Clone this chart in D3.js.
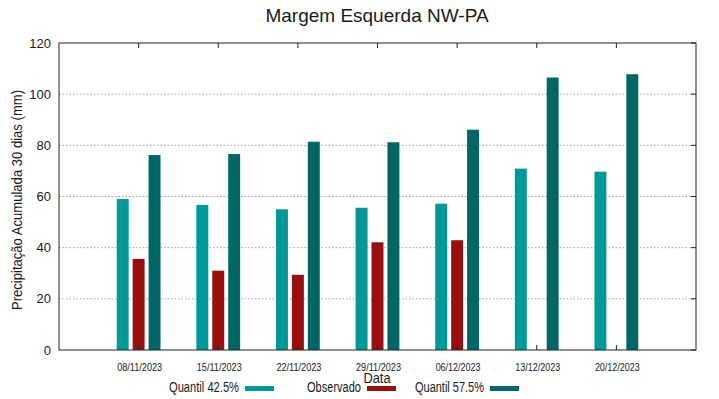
<!DOCTYPE html>
<html>
<head>
<meta charset="utf-8">
<script src="https://cdn.jsdelivr.net/npm/d3@7"></script>
<style>
  body { margin: 0; background: #fff; }
  text { font-family: "Liberation Sans", Arial, sans-serif; fill: #1a1a1a; }
  .grid line { stroke: #a0a0a0; stroke-dasharray: 1.5,2; }
</style>
</head>
<body>
<svg id="chart" width="719" height="399"></svg>
<script>
// Chart data
const dates = ["08/11/2023", "15/11/2023", "22/11/2023", "29/11/2023", "06/12/2023", "13/12/2023", "20/12/2023"];
const q425 = [59.0, 56.7, 55.0, 55.6, 57.2, 70.9, 69.7];
const observado = [35.6, 31.0, 29.4, 42.1, 42.9, null, null];
const q575 = [76.2, 76.6, 81.4, 81.2, 86.1, 106.5, 107.8];
const yTicks = [0, 20, 40, 60, 80, 100, 120];

const series = [
  {name: "Quantil 42.5%", values: q425, color: "#009999", offset: -0.2},
  {name: "Observado", values: observado, color: "#990f0f", offset: 0},
  {name: "Quantil 57.5%", values: q575, color: "#006666", offset: 0.2}
];

const margin = {top: 43, right: 23, bottom: 49, left: 59},
    width = 719 - margin.left - margin.right,
    height = 399 - margin.top - margin.bottom;

const svg = d3.select("#chart");
const g = svg.append("g")
    .attr("transform", `translate(${margin.left},${margin.top})`);

// Scales: x as index with one unit padding each side
const x = d3.scaleLinear().domain([-1, dates.length]).range([0, width]);
const y = d3.scaleLinear().domain([0, 120]).range([height, 0]);
const barW = x(0.15) - x(0);

// Grid
g.append("g")
    .attr("class", "grid")
    .selectAll("line")
    .data(yTicks.filter(t => t > 0 && t < 120))
    .enter().append("line")
    .attr("x1", 0).attr("x2", width)
    .attr("y1", d => y(d)).attr("y2", d => y(d));

// Bars
series.forEach(s => {
  g.selectAll(null)
    .data(s.values.map((v, i) => ({v, i})).filter(d => d.v != null))
    .enter().append("rect")
    .attr("x", d => x(d.i + s.offset) - barW / 2)
    .attr("y", d => y(d.v))
    .attr("width", barW)
    .attr("height", d => y(0) - y(d.v))
    .attr("fill", s.color);
});

// Frame
g.append("rect")
    .attr("width", width).attr("height", height)
    .attr("fill", "none").attr("stroke", "#222").attr("stroke-width", 1);

// Y axis labels and ticks (left + mirrored right)
g.selectAll(".ylab")
    .data(yTicks)
    .enter().append("text")
    .attr("x", -8)
    .attr("y", d => y(d))
    .attr("dy", "0.35em")
    .attr("text-anchor", "end")
    .style("font-size", "13px")
    .text(d => d);

g.selectAll(".ytickR")
    .data(yTicks)
    .enter().append("line")
    .attr("x1", width - 5).attr("x2", width)
    .attr("y1", d => y(d)).attr("y2", d => y(d))
    .attr("stroke", "#222");

// X axis ticks (bottom + mirrored top) and labels
const idx = d3.range(dates.length);
g.selectAll(".xtickB")
    .data(idx).enter().append("line")
    .attr("x1", d => x(d)).attr("x2", d => x(d))
    .attr("y1", height).attr("y2", height - 5)
    .attr("stroke", "#222");
g.selectAll(".xtickT")
    .data(idx).enter().append("line")
    .attr("x1", d => x(d)).attr("x2", d => x(d))
    .attr("y1", 0).attr("y2", 5)
    .attr("stroke", "#222");
g.selectAll(".xlab")
    .data(idx).enter().append("text")
    .attr("x", d => x(d) + 1)
    .attr("y", height + 21)
    .attr("text-anchor", "middle")
    .attr("textLength", 45)
    .attr("lengthAdjust", "spacingAndGlyphs")
    .style("font-size", "10.5px")
    .text(d => dates[d]);

// Title
svg.append("text")
    .attr("x", 377).attr("y", 22)
    .attr("text-anchor", "middle")
    .style("font-size", "19px")
    .text("Margem Esquerda NW-PA");

// Axis titles
svg.append("text")
    .attr("transform", `translate(22,${margin.top + 157}) rotate(-90)`)
    .attr("text-anchor", "middle")
    .attr("textLength", 220)
    .attr("lengthAdjust", "spacingAndGlyphs")
    .style("font-size", "14px")
    .text("Precipitação Acumulada 30 dias (mm)");

svg.append("text")
    .attr("x", 377).attr("y", 383)
    .attr("text-anchor", "middle")
    .attr("textLength", 27)
    .attr("lengthAdjust", "spacingAndGlyphs")
    .style("font-size", "14px")
    .text("Data");

// Legend
const legendEnds = [239, 361, 484];
const legendW = [70, 54, 69];
series.forEach((s, i) => {
  svg.append("text")
    .attr("x", legendEnds[i]).attr("y", 392)
    .attr("text-anchor", "end")
    .attr("textLength", legendW[i])
    .attr("lengthAdjust", "spacingAndGlyphs")
    .style("font-size", "14px")
    .text(s.name);
  svg.append("rect")
    .attr("x", legendEnds[i] + 6).attr("y", 386)
    .attr("width", 29).attr("height", 5)
    .attr("fill", s.color);
});
</script>
</body>
</html>
